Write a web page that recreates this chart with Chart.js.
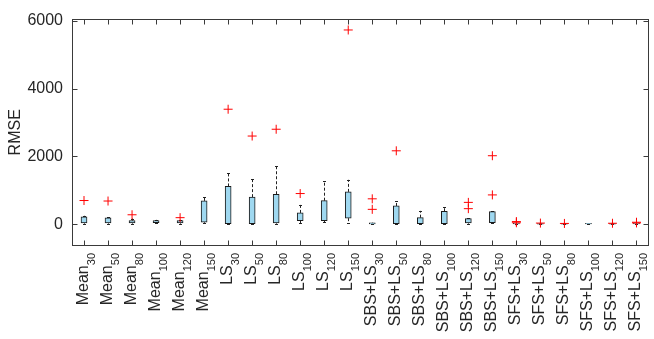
<!DOCTYPE html>
<html>
<head>
<meta charset="utf-8">
<script src="https://cdn.jsdelivr.net/npm/chart.js@4.4.1/dist/chart.umd.min.js"></script>
<style>
  html, body { margin: 0; padding: 0; background: #fff; }
  #wrap { width: 654px; height: 339px; }
</style>
</head>
<body>
<div id="wrap"><canvas id="box-chart"></canvas></div>
<script>
// category labels: main text + subscript
const labelMain = ["Mean", "Mean", "Mean", "Mean", "Mean", "Mean",
  "LS", "LS", "LS", "LS", "LS", "LS",
  "SBS+LS", "SBS+LS", "SBS+LS", "SBS+LS", "SBS+LS", "SBS+LS",
  "SFS+LS", "SFS+LS", "SFS+LS", "SFS+LS", "SFS+LS", "SFS+LS"];
const labelSub = ["30", "50", "80", "100", "120", "150",
  "30", "50", "80", "100", "120", "150",
  "30", "50", "80", "100", "120", "150",
  "30", "50", "80", "100", "120", "150"];
const categories = labelMain.map((m, i) => m + labelSub[i]);

// box plot statistics (RMSE)
const q1 = [40, 40, 40, 50, 40, 60, 20, 20, 40, 105, 105, 180, 10, 20, 20, 20, 40, 50, 10, 5, 5, 10, 5, 10];
const q3 = [220, 190, 110, 110, 110, 690, 1115, 800, 885, 335, 695, 955, 40, 540, 195, 385, 165, 375, 25, 20, 20, 25, 20, 30];
const whiskerLo = [20, 20, 20, 30, 20, 40, 10, 10, 20, 30, 60, 50, 5, 10, 10, 10, 20, 30, 0, 0, 0, 0, 0, 0];
const whiskerHi = [250, 210, 170, 130, 130, 790, 1500, 1320, 1720, 580, 1270, 1310, 50, 685, 395, 500, 180, 390, 30, 25, 25, 30, 25, 35];
const outliers = [[700], [685], [280], [], [195], [],
  [3390], [2600], [2800], [905], [], [5725],
  [750, 440], [2165], [], [], [645, 460], [2020, 865],
  [80, 45], [35], [25], [], [30], [60, 40]];
const yTicks = [0, 2000, 4000, 6000];

const textColor = "#262626";
const axisColor = "#3a3a3a";

const outlierPoints = [];
outliers.forEach((list, i) => {
  list.forEach((v) => outlierPoints.push({ x: categories[i], y: v }));
});

// whiskers drawn from the scales, under the boxes
const whiskerPlugin = {
  id: "whiskers",
  beforeDatasetsDraw(chart) {
    const ctx = chart.ctx;
    const xs = chart.scales.x;
    const ys = chart.scales.y;
    ctx.save();
    ctx.strokeStyle = "#222";
    ctx.lineWidth = 1;
    categories.forEach((c, i) => {
      const x = Math.round(xs.getPixelForValue(i)) + 0.5;
      const segs = [[q3[i], whiskerHi[i]], [q1[i], whiskerLo[i]]];
      segs.forEach(([a, b]) => {
        const ya = ys.getPixelForValue(a);
        const yb = ys.getPixelForValue(b);
        ctx.setLineDash([3, 2]);
        ctx.beginPath();
        ctx.moveTo(x, ya);
        ctx.lineTo(x, yb);
        ctx.stroke();
        ctx.setLineDash([]);
        ctx.beginPath();
        ctx.moveTo(x - 1.5, Math.round(yb) + 0.5);
        ctx.lineTo(x + 1.5, Math.round(yb) + 0.5);
        ctx.stroke();
      });
    });
    ctx.restore();
  },
};

// MATLAB style frame with inward ticks, and subscript labels
const framePlugin = {
  id: "frame",
  afterDraw(chart) {
    const ctx = chart.ctx;
    const a = chart.chartArea;
    const xs = chart.scales.x;
    const ys = chart.scales.y;
    const L = Math.round(a.left) + 0.5, R = Math.round(a.right) - 0.5;
    const T = Math.round(a.top) + 0.5, B = Math.round(a.bottom) - 0.5;
    ctx.save();
    ctx.strokeStyle = axisColor;
    ctx.lineWidth = 1;
    ctx.strokeRect(L, T, R - L, B - T);
    ctx.beginPath();
    categories.forEach((c, i) => {
      const x = Math.round(xs.getPixelForValue(i)) + 0.5;
      ctx.moveTo(x, B); ctx.lineTo(x, B - 5);
      ctx.moveTo(x, T); ctx.lineTo(x, T + 5);
    });
    yTicks.forEach((v) => {
      const y = Math.round(ys.getPixelForValue(v)) + 0.5;
      ctx.moveTo(L, y); ctx.lineTo(L + 5, y);
      ctx.moveTo(R, y); ctx.lineTo(R - 5, y);
    });
    ctx.stroke();

    // rotated labels with subscripts
    ctx.fillStyle = textColor;
    ctx.textBaseline = "alphabetic";
    ctx.textAlign = "right";
    categories.forEach((c, i) => {
      const x = xs.getPixelForValue(i);
      ctx.save();
      ctx.translate(x, a.bottom + 7);
      ctx.rotate(-Math.PI / 2);
      ctx.font = "11px 'Liberation Sans', Arial, sans-serif";
      const sw = ctx.measureText(labelSub[i]).width;
      ctx.fillText(labelSub[i], 0, 11);
      ctx.font = "16px 'Liberation Sans', Arial, sans-serif";
      ctx.fillText(labelMain[i], -sw, 3.5);
      ctx.restore();
    });
    ctx.restore();
  },
};

const ctxBox = document.getElementById("box-chart").getContext("2d");
const boxChart = new Chart(ctxBox, {
  type: "bar",
  data: {
    labels: categories,
    datasets: [
      {
        type: "scatter",
        label: "Outliers",
        data: outlierPoints,
        pointStyle: "cross",
        radius: 4.5,
        borderColor: "#ff0000",
        borderWidth: 1,
        order: 0,
      },
      {
        label: "RMSE",
        data: q1.map((v, i) => [v, q3[i]]),
        backgroundColor: "#9fd8f0",
        borderColor: "#1a1a1a",
        borderWidth: 1,
        borderSkipped: false,
        barThickness: 6,
        order: 1,
      },
    ],
  },
  options: {
    responsive: true,
    maintainAspectRatio: false,
    animation: false,
    layout: { padding: { top: 15, right: 1, left: 0, bottom: 0 } },
    plugins: {
      legend: { display: false },
      tooltip: { enabled: false },
    },
    scales: {
      x: {
        type: "category",
        offset: true,
        grid: { display: false, drawTicks: false },
        border: { display: false },
        ticks: { display: false },
        afterFit: (axis) => { axis.height = 93; },
      },
      y: {
        min: -640,
        max: 6060,
        grid: { display: false, drawTicks: false },
        border: { display: false },
        ticks: {
          padding: 9,
          color: textColor,
          font: { family: "'Liberation Sans', Arial, sans-serif", size: 16 },
          callback: (v) => String(v),
        },
        afterBuildTicks: (axis) => { axis.ticks = yTicks.map((v) => ({ value: v })); },
        afterFit: (axis) => { axis.width = 72; },
        title: {
          display: true,
          text: "RMSE",
          color: textColor,
          font: { family: "'Liberation Sans', Arial, sans-serif", size: 16 },
          padding: { top: 6, bottom: 0 },
        },
      },
    },
  },
  plugins: [whiskerPlugin, framePlugin],
});
</script>
</body>
</html>
